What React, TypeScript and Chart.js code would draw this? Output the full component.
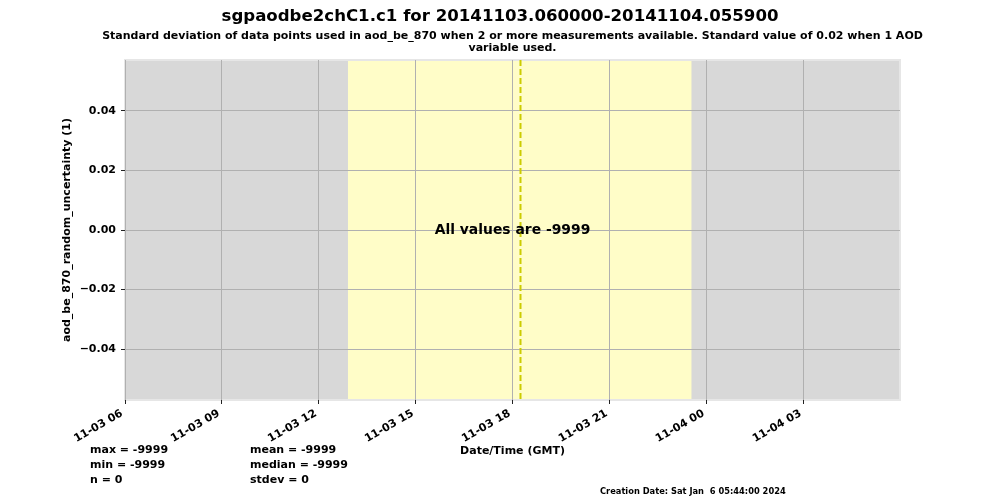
import React, { useEffect, useRef } from "react";
import { Chart, registerables } from "chart.js";

Chart.register(...registerables);

const TITLE = "sgpaodbe2chC1.c1 for 20141103.060000-20141104.055900";
const SUBTITLE_LINES = [
  "Standard deviation of data points used in aod_be_870 when 2 or more measurements available. Standard value of 0.02 when 1 AOD",
  "variable used.",
];
const Y_LABEL = "aod_be_870_random_uncertainty (1)";
const X_LABEL = "Date/Time (GMT)";
// hours after 2014-11-03 06:00 GMT
const TICK_HOURS = [0, 3, 6, 9, 12, 15, 18, 21];
const TICK_LABELS = ["11-03 06", "11-03 09", "11-03 12", "11-03 15", "11-03 18", "11-03 21", "11-04 00", "11-04 03"];
const X_RANGE = [0, 23.983];
const Y_TICKS = [-0.04, -0.02, 0, 0.02, 0.04];
const Y_TICK_LABELS = ["\u22120.04", "\u22120.02", "0.00", "0.02", "0.04"];
const Y_RANGE = [-0.0571, 0.0571];
// every value is missing (-9999), so no points are plotted
const SERIES_HOURS: number[] = [];
const SERIES_VALUES: number[] = [];
const DAYLIGHT_HOURS = [6.9, 17.53];
const SOLAR_NOON_HOUR = 12.22;
const NO_DATA_TEXT = "All values are -9999";
const STATS_LEFT = ["max = -9999", "min = -9999", "n = 0"];
const STATS_RIGHT = ["mean = -9999", "median = -9999", "stdev = 0"];
const CREATION_TEXT = "Creation Date: Sat Jan  6 05:44:00 2024";

const FONT = "'DejaVu Sans', sans-serif";

const decorPlugin = {
  id: "decor",
  beforeDraw(chart: any) {
    const { ctx, chartArea, scales } = chart;
    const x = scales.x;
    ctx.save();
    ctx.fillStyle = "#ffffff";
    ctx.fillRect(0, 0, chart.width, chart.height);
    ctx.fillStyle = "#d8d8d8";
    ctx.fillRect(chartArea.left, chartArea.top, chartArea.right - chartArea.left, chartArea.bottom - chartArea.top);
    const x0 = x.getPixelForValue(DAYLIGHT_HOURS[0]);
    const x1 = x.getPixelForValue(DAYLIGHT_HOURS[1]);
    ctx.fillStyle = "#fffdc8";
    ctx.fillRect(x0, chartArea.top, x1 - x0, chartArea.bottom - chartArea.top);
    ctx.strokeStyle = "#e6e6e6";
    ctx.lineWidth = 2;
    ctx.strokeRect(chartArea.left, chartArea.top, chartArea.right - chartArea.left, chartArea.bottom - chartArea.top);
    ctx.restore();
  },
  afterDatasetsDraw(chart: any) {
    const { ctx, chartArea, scales } = chart;
    const xn = Math.round(scales.x.getPixelForValue(SOLAR_NOON_HOUR)) + 0.5;
    ctx.save();
    ctx.strokeStyle = "#cccc00";
    ctx.lineWidth = 2;
    ctx.setLineDash([6, 3]);
    ctx.beginPath();
    ctx.moveTo(xn, chartArea.top);
    ctx.lineTo(xn, chartArea.bottom);
    ctx.stroke();
    ctx.restore();
  },
  afterDraw(chart: any) {
    const { ctx, chartArea } = chart;
    const cx = (chartArea.left + chartArea.right) / 2;
    ctx.save();
    ctx.fillStyle = "#000";
    ctx.textBaseline = "middle";
    ctx.textAlign = "center";
    ctx.font = `bold 16.6px ${FONT}`;
    ctx.fillText(TITLE, 500, 17);
    ctx.font = `bold 11px ${FONT}`;
    ctx.fillText(SUBTITLE_LINES[0], cx, 36);
    ctx.fillText(SUBTITLE_LINES[1], cx, 48);
    ctx.font = `bold 13.9px ${FONT}`;
    ctx.fillText(NO_DATA_TEXT, cx, (chartArea.top + chartArea.bottom) / 2);
    ctx.font = `bold 11px ${FONT}`;
    ctx.fillText(X_LABEL, cx, 451);
    ctx.textAlign = "left";
    STATS_LEFT.forEach((t, i) => ctx.fillText(t, 90, 450 + i * 15));
    STATS_RIGHT.forEach((t, i) => ctx.fillText(t, 250, 450 + i * 15));
    ctx.font = `bold 8.3px ${FONT}`;
    ctx.fillText(CREATION_TEXT, 600, 492);
    ctx.restore();
  },
};

export default function App() {
  const ref = useRef<HTMLCanvasElement | null>(null);
  useEffect(() => {
    if (!ref.current) return;
    const chart = new Chart(ref.current, {
      type: "line",
      data: {
        datasets: [
          {
            label: "aod_be_870_random_uncertainty",
            data: SERIES_HOURS.map((h, i) => ({ x: h, y: SERIES_VALUES[i] })),
            borderColor: "#1f77b4",
            pointRadius: 2,
            showLine: false,
          },
        ],
      },
      options: {
        animation: false,
        responsive: false,
        devicePixelRatio: 1,
        layout: { padding: { left: 0, top: 60, right: 100, bottom: 50 } },
        plugins: { legend: { display: false }, tooltip: { enabled: false } },
        scales: {
          x: {
            type: "linear",
            min: X_RANGE[0],
            max: X_RANGE[1],
            afterBuildTicks: (s: any) => {
              s.ticks = TICK_HOURS.map((v) => ({ value: v }));
            },
            afterFit: (s: any) => {
              s.height = 50;
            },
            grid: { color: "#b0b0b0", lineWidth: 1, tickColor: "#222", tickLength: 4, drawTicks: true },
            border: { display: false },
            ticks: {
              display: true,
              autoSkip: false,
              minRotation: 30,
              maxRotation: 30,
              padding: 3,
              labelOffset: -3,
              color: "#000",
              font: { family: FONT, size: 11, weight: "bold" },
              callback: (v: any) => {
                const i = TICK_HOURS.findIndex((t) => Math.abs(t - Number(v)) < 1e-9);
                return i >= 0 ? TICK_LABELS[i] : "";
              },
            },
          },
          y: {
            type: "linear",
            min: Y_RANGE[0],
            max: Y_RANGE[1],
            afterBuildTicks: (s: any) => {
              s.ticks = Y_TICKS.map((v) => ({ value: v }));
            },
            afterFit: (s: any) => {
              s.width = 125;
            },
            grid: { color: "#b0b0b0", lineWidth: 1, tickColor: "#222", tickLength: 4, drawTicks: true },
            border: { display: false },
            title: {
              display: true,
              text: Y_LABEL,
              color: "#000",
              font: { family: FONT, size: 11, weight: "bold" },
              padding: { top: 61, bottom: 0 },
            },
            ticks: {
              padding: 5,
              color: "#000",
              font: { family: FONT, size: 11, weight: "bold" },
              callback: (v: any) => {
                const i = Y_TICKS.findIndex((t) => Math.abs(t - Number(v)) < 1e-9);
                return i >= 0 ? Y_TICK_LABELS[i] : "";
              },
            },
          },
        },
      },
      plugins: [decorPlugin],
    } as any);
    return () => chart.destroy();
  }, []);
  return (
    <div style={{ position: "fixed", left: 0, top: 0, width: 1000, height: 500, background: "#fff" }}>
      <canvas ref={ref} width={1000} height={500} style={{ width: 1000, height: 500, display: "block" }} />
    </div>
  );
}
